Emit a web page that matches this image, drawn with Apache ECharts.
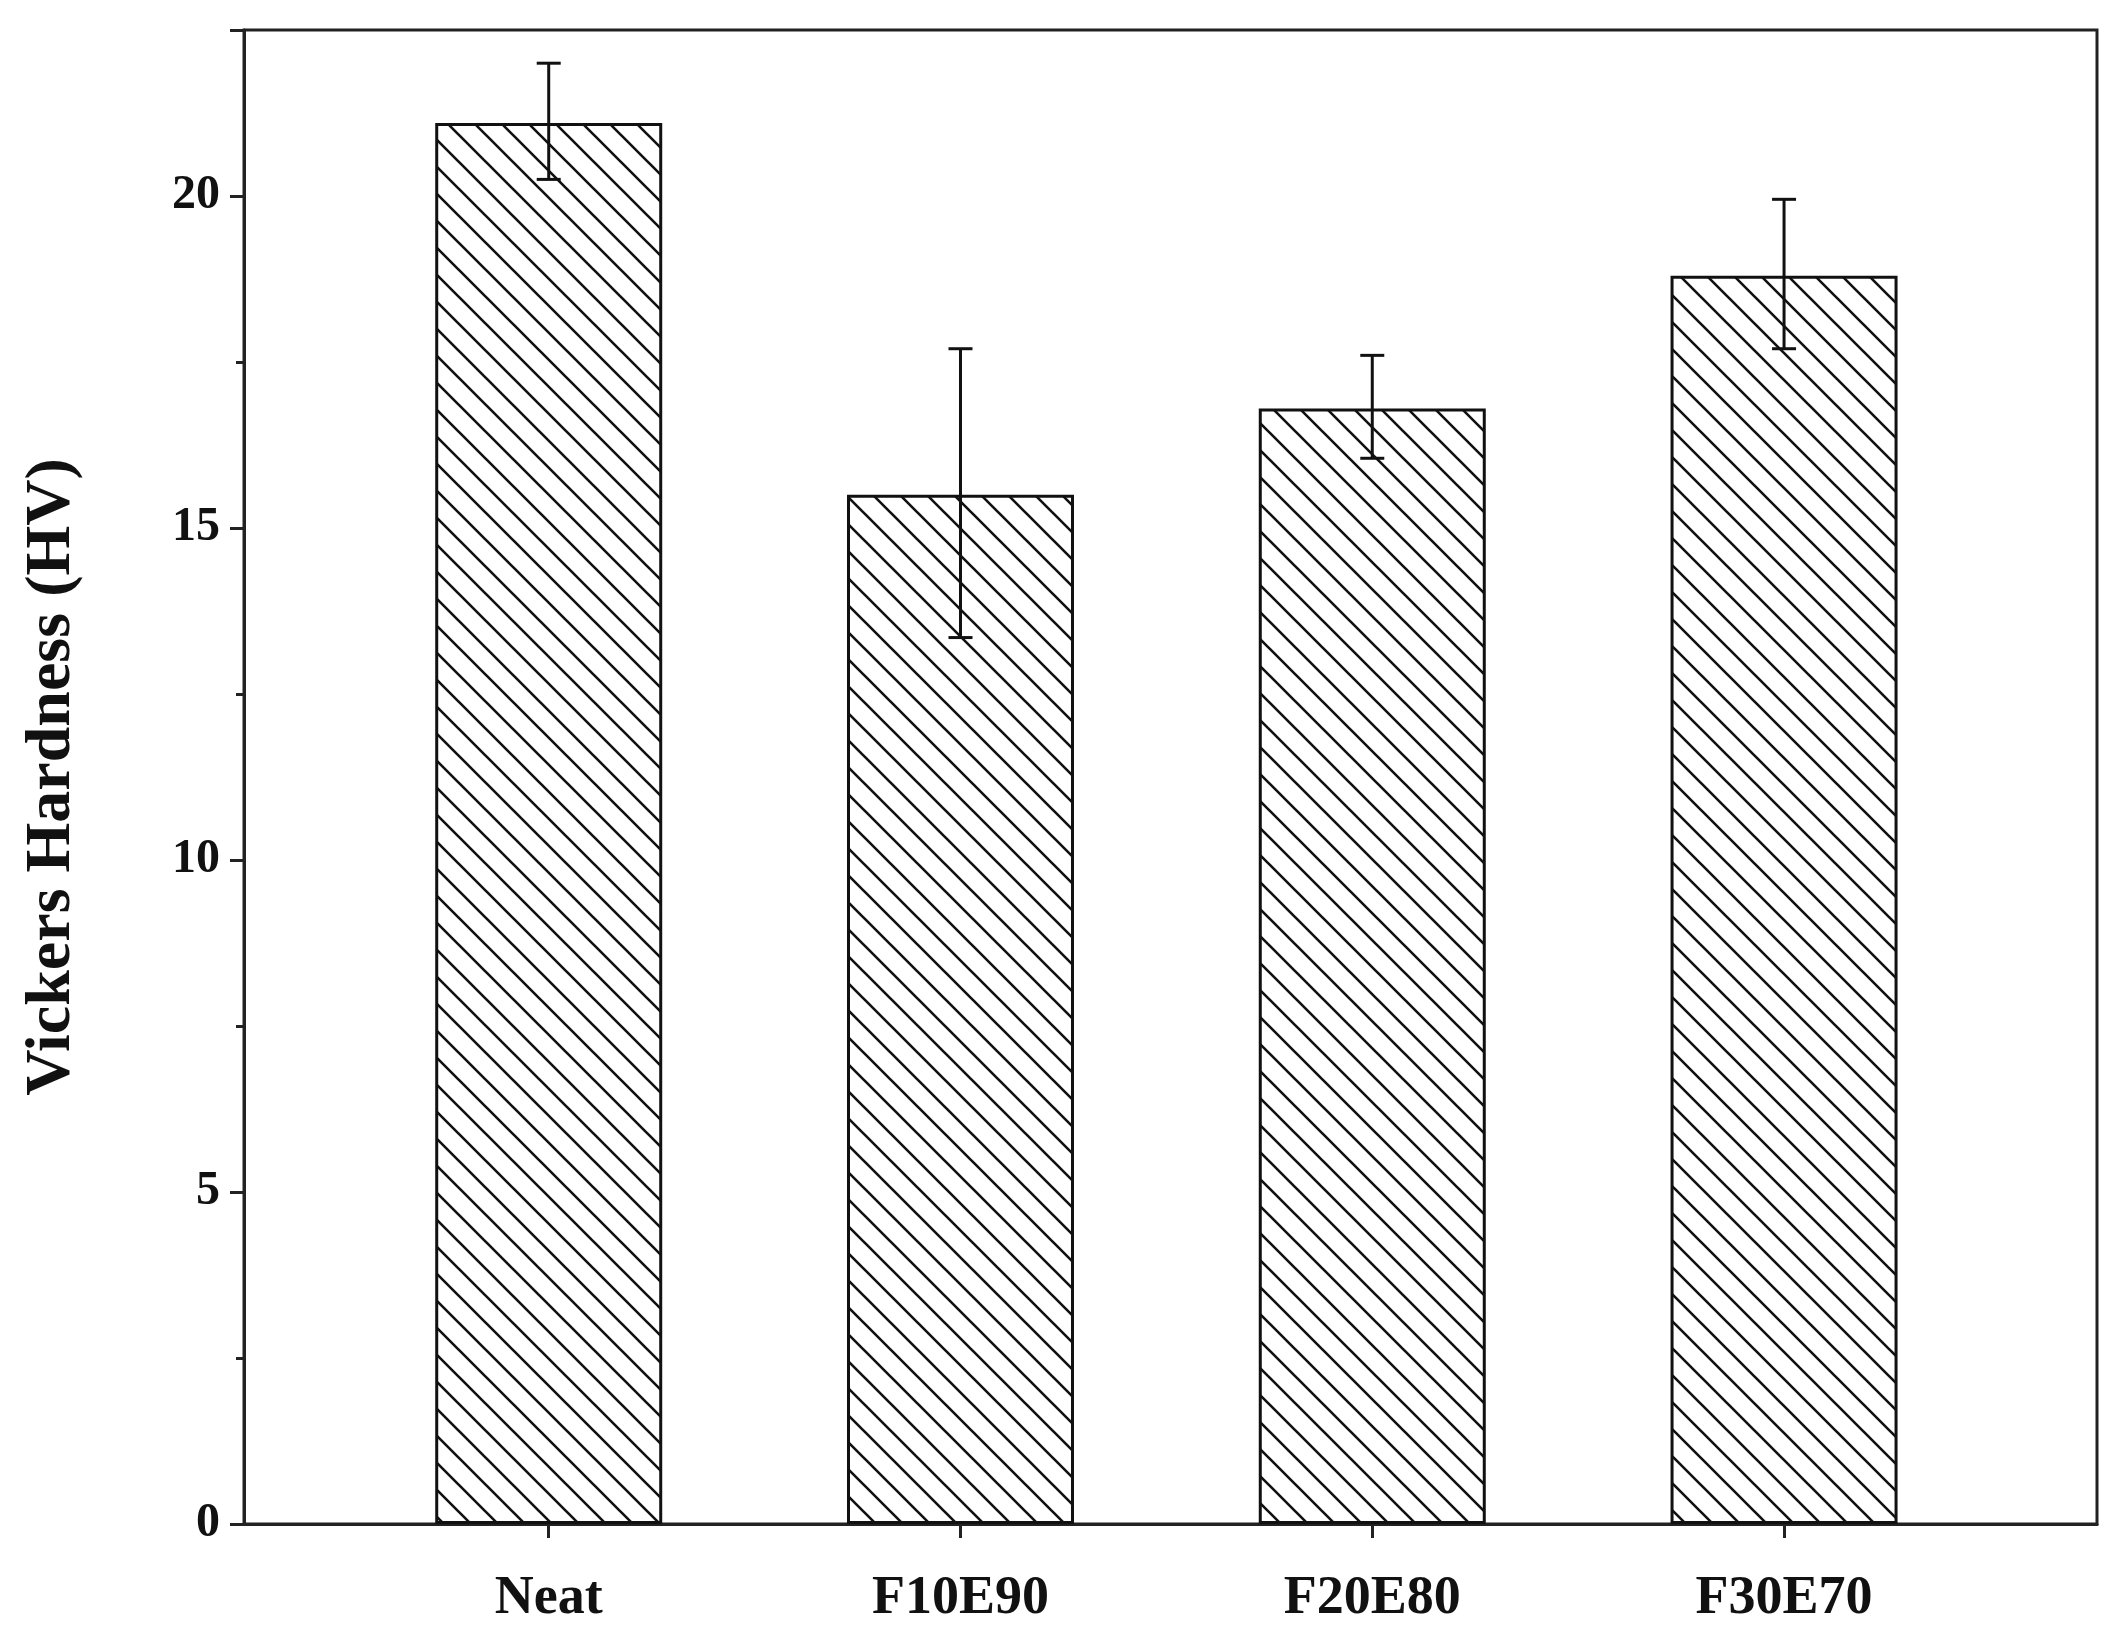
<!DOCTYPE html>
<html>
<head>
<meta charset="UTF-8">
<script src="https://cdn.jsdelivr.net/npm/echarts/dist/echarts.min.js"></script>
<style>
  html, body { margin: 0; background: #fff; }
  #chart { width: 2127px; height: 1640px; }
</style>
</head>
<body>
<div id="chart"></div>
<script>
  // values
  let samples = ['Neat', 'F10E90', 'F20E80', 'F30E70'];
  let hardness = [21.1, 15.5, 16.8, 18.8];
  let errLow = [20.25, 13.35, 16.05, 17.7];
  let errHigh = [22.0, 17.7, 17.6, 19.95];

  // diagonal hatch tile
  let tile = document.createElement('canvas');
  tile.width = 27; tile.height = 27;
  let ctx = tile.getContext('2d');
  ctx.fillStyle = '#fff';
  ctx.fillRect(0, 0, 27, 27);
  ctx.strokeStyle = '#111';
  ctx.lineWidth = 2.6;
  ctx.beginPath();
  ctx.moveTo(-2, -2); ctx.lineTo(29, 29);
  ctx.moveTo(-2, 25); ctx.lineTo(2, 29);
  ctx.moveTo(25, -2); ctx.lineTo(29, 2);
  ctx.stroke();

  let font = '"Liberation Serif", "Times New Roman", serif';
  let chart = echarts.init(document.getElementById('chart'));
  chart.setOption({
    animation: false,
    grid: { left: 244, right: 30, top: 30, bottom: 116, show: true, borderColor: '#222', borderWidth: 3 },
    xAxis: {
      type: 'value', min: 0.26, max: 4.76, interval: 1,
      splitLine: { show: false },
      axisLine: { lineStyle: { color: '#222', width: 3 } },
      axisTick: { show: true, length: 14, lineStyle: { color: '#222', width: 3 }, customValues: [1, 2, 3, 4] },
      axisLabel: {
        customValues: [1, 2, 3, 4],
        formatter: v => samples[Math.round(v) - 1] || '',
        fontFamily: font, fontWeight: 'bold', fontSize: 54, color: '#111', margin: 48
      }
    },
    yAxis: {
      type: 'value', min: 0, max: 22.5, interval: 5,
      name: 'Vickers Hardness (HV)', nameLocation: 'middle', nameGap: 160,
      nameTextStyle: { fontFamily: font, fontWeight: 'bold', fontSize: 64, color: '#111' },
      splitLine: { show: false },
      axisLine: { lineStyle: { color: '#222', width: 3 } },
      axisTick: { show: true, length: 14, lineStyle: { color: '#222', width: 3 } },
      minorTick: { show: true, splitNumber: 2, length: 8, lineStyle: { color: '#222', width: 3 } },
      axisLabel: { fontFamily: font, fontWeight: 'bold', fontSize: 48, color: '#111', margin: 24, formatter: v => v > 21 ? '' : v }
    },
    series: [
      {
        type: 'bar',
        barWidth: 227,
        data: hardness.map((v, i) => [i + 1, v]),
        itemStyle: { color: { image: tile, repeat: 'repeat' }, borderColor: '#111', borderWidth: 3 }
      },
      {
        type: 'custom',
        data: samples.map((s, i) => [i + 1, errLow[i], errHigh[i]]),
        renderItem: function (params, api) {
          let lo = api.coord([api.value(0), api.value(1)]);
          let hi = api.coord([api.value(0), api.value(2)]);
          let w = 12;
          let st = { stroke: '#111', lineWidth: 3 };
          return {
            type: 'group',
            children: [
              { type: 'line', shape: { x1: hi[0], y1: hi[1], x2: lo[0], y2: lo[1] }, style: st },
              { type: 'line', shape: { x1: hi[0] - w, y1: hi[1], x2: hi[0] + w, y2: hi[1] }, style: st },
              { type: 'line', shape: { x1: lo[0] - w, y1: lo[1], x2: lo[0] + w, y2: lo[1] }, style: st }
            ]
          };
        },
        z: 5
      }
    ]
  });
</script>
</body>
</html>
